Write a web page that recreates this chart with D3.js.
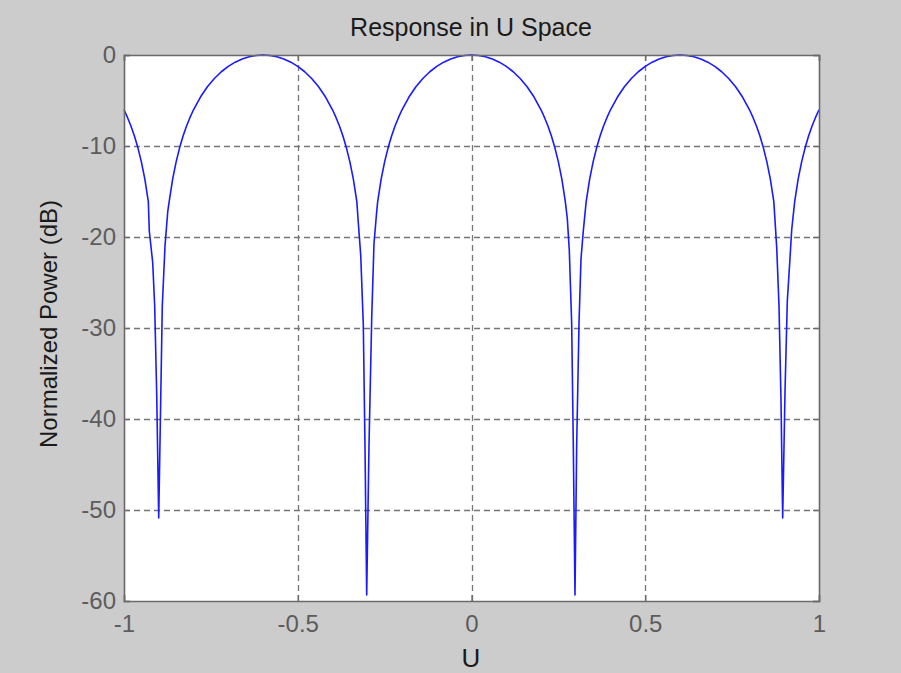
<!DOCTYPE html>
<html><head><meta charset="utf-8">
<script src="https://cdn.jsdelivr.net/npm/d3@7"></script>
<style>
body{margin:0;background:#cccccc;}
svg{display:block;}
text{font-family:"Liberation Sans",Arial,sans-serif;}
</style></head><body>
<svg id="chart" width="901" height="673"></svg>
<script>
// Data (U, normalized power in dB)
const uValues = [
  -1.00,-0.99,-0.98,-0.97,-0.96,-0.95,-0.94,-0.93,
  -0.9272,-0.9174,-0.9117,-0.9059,-0.9001,-0.8944,-0.8898,-0.8820,-0.8742,
  -0.87,-0.86,-0.85,-0.84,-0.83,-0.82,-0.81,-0.80,
  -0.78,-0.76,-0.74,-0.72,-0.70,-0.68,-0.66,-0.64,-0.62,-0.60,
  -0.58,-0.56,-0.54,-0.52,-0.50,-0.48,-0.46,-0.44,-0.42,
  -0.40,-0.39,-0.38,-0.37,-0.36,-0.35,-0.34,-0.33,
  -0.3258,-0.3188,-0.3114,-0.3065,-0.3016,-0.2950,-0.2872,-0.2806,-0.2728,
  -0.27,-0.26,-0.25,-0.24,-0.23,-0.22,-0.21,-0.20,
  -0.18,-0.16,-0.14,-0.12,-0.10,-0.08,-0.06,-0.04,-0.02,0.00,
  0.02,0.04,0.06,0.08,0.10,0.12,0.14,0.16,0.18,
  0.20,0.21,0.22,0.23,0.24,0.25,0.26,0.27,
  0.2757,0.2814,0.2883,0.2930,0.2978,0.3027,0.3094,0.3151,0.3217,
  0.33,0.34,0.35,0.36,0.37,0.38,0.39,0.40,
  0.42,0.44,0.46,0.48,0.50,0.52,0.54,0.56,0.58,0.60,
  0.62,0.64,0.66,0.68,0.70,0.72,0.74,0.76,0.78,
  0.80,0.81,0.82,0.83,0.84,0.85,0.86,0.87,
  0.8783,0.8849,0.8906,0.8955,0.9022,0.9088,0.9165,0.9214,
  0.93,0.94,0.95,0.96,0.97,0.98,0.99,1.00
];
const powerDb = [
  -6.02,-6.86,-7.81,-8.91,-10.20,-11.74,-13.64,-16.11,
  -19.34,-22.80,-27.58,-37.20,-50.88,-38.02,-27.58,-20.99,-17.25,
  -16.11,-13.64,-11.74,-10.20,-8.91,-7.81,-6.86,-6.02,
  -4.62,-3.49,-2.58,-1.84,-1.25,-0.79,-0.44,-0.19,-0.05,0.00,
  -0.05,-0.19,-0.44,-0.79,-1.25,-1.84,-2.58,-3.49,-4.62,
  -6.02,-6.86,-7.81,-8.91,-10.20,-11.74,-13.64,-16.11,
  -18.41,-21.98,-29.56,-42.97,-59.34,-42.97,-28.96,-20.71,-17.20,
  -16.11,-13.64,-11.74,-10.20,-8.91,-7.81,-6.86,-6.02,
  -4.62,-3.49,-2.58,-1.84,-1.25,-0.79,-0.44,-0.19,-0.05,0.00,
  -0.05,-0.19,-0.44,-0.79,-1.25,-1.84,-2.58,-3.49,-4.62,
  -6.02,-6.86,-7.81,-8.91,-10.20,-11.74,-13.64,-16.11,
  -17.97,-21.43,-29.56,-42.97,-59.34,-42.86,-29.45,-22.42,-19.34,
  -16.11,-13.64,-11.74,-10.20,-8.91,-7.81,-6.86,-6.02,
  -4.62,-3.49,-2.58,-1.84,-1.25,-0.79,-0.44,-0.19,-0.05,0.00,
  -0.05,-0.19,-0.44,-0.79,-1.25,-1.84,-2.58,-3.49,-4.62,
  -6.02,-6.86,-7.81,-8.91,-10.20,-11.74,-13.64,-16.11,
  -21.15,-27.58,-37.86,-50.88,-36.92,-27.03,-22.36,-19.23,
  -16.11,-13.64,-11.74,-10.20,-8.91,-7.81,-6.86,-6.02
];
const xTickValues = [-1,-0.5,0,0.5,1];
const xTickLabels = ["-1","-0.5","0","0.5","1"];
const yTickValues = [0,-10,-20,-30,-40,-50,-60];
const yTickLabels = ["0","-10","-20","-30","-40","-50","-60"];
const titleText = "Response in U Space";
const xLabelText = "U";
const yLabelText = "Normalized Power (dB)";

const svg = d3.select("#chart");
const L = 124, T = 55, R = 819, B = 601;
const x = d3.scaleLinear().domain([-1,1]).range([L,R]);
const y = d3.scaleLinear().domain([-60,0]).range([B,T]);

svg.append("rect").attr("width",901).attr("height",673).attr("fill","#cccccc");
svg.append("rect").attr("x",L).attr("y",T).attr("width",R-L).attr("height",B-T).attr("fill","#ffffff");

// grid
const grid = svg.append("g").attr("stroke","#767676").attr("stroke-width",1.3).attr("stroke-dasharray","6,4").attr("fill","none");
xTickValues.slice(1,-1).forEach(v=>{
  grid.append("line").attr("x1",Math.round(x(v))+0.5).attr("x2",Math.round(x(v))+0.5).attr("y1",T).attr("y2",B);
});
yTickValues.slice(1,-1).forEach(v=>{
  grid.append("line").attr("x1",L).attr("x2",R).attr("y1",Math.round(y(v))+0.5).attr("y2",Math.round(y(v))+0.5);
});

// curve
const pts = uValues.map((u,i)=>[u,powerDb[i]]);
svg.append("path").datum(pts)
  .attr("d", d3.line().x(d=>x(d[0])).y(d=>y(d[1])))
  .attr("fill","none").attr("stroke","#1a1aff").attr("stroke-width",1.6).attr("stroke-linejoin","round");

// axes with inward ticks
const tickColor = "#6a6a6a";
const axB = d3.axisBottom(x).tickValues(xTickValues).tickSize(-6).tickPadding(14).tickFormat((d,i)=>xTickLabels[i]);
const axT = d3.axisTop(x).tickValues(xTickValues).tickSize(-6).tickFormat("");
const axLf = d3.axisLeft(y).tickValues(yTickValues).tickSize(-6).tickPadding(8).tickFormat((d,i)=>yTickLabels[i]);
const axRt = d3.axisRight(y).tickValues(yTickValues).tickSize(-6).tickFormat("");
function style(g){
  g.selectAll("path").attr("stroke",tickColor).attr("stroke-width",1.6);
  g.selectAll("line").attr("stroke",tickColor).attr("stroke-width",1.3);
  g.selectAll("text").attr("fill","#5c5c5c").style("font-size","24px").style("font-family","'Liberation Sans',Arial,sans-serif");
}
svg.append("g").attr("transform",`translate(0,${B})`).call(axB).call(style);
svg.append("g").attr("transform",`translate(0,${T})`).call(axT).call(style);
svg.append("g").attr("transform",`translate(${L},0)`).call(axLf).call(style);
svg.append("g").attr("transform",`translate(${R},0)`).call(axRt).call(style);

// titles
svg.append("text").attr("x",471).attr("y",36).attr("text-anchor","middle")
  .attr("fill","#1a1a1a").style("font-size","25px").text(titleText);
svg.append("text").attr("x",471).attr("y",667).attr("text-anchor","middle")
  .attr("fill","#1a1a1a").style("font-size","26px").text(xLabelText);
svg.append("text").attr("transform","translate(57,324) rotate(-90)").attr("text-anchor","middle")
  .attr("fill","#1a1a1a").style("font-size","24px").text(yLabelText);
</script>
</body></html>
